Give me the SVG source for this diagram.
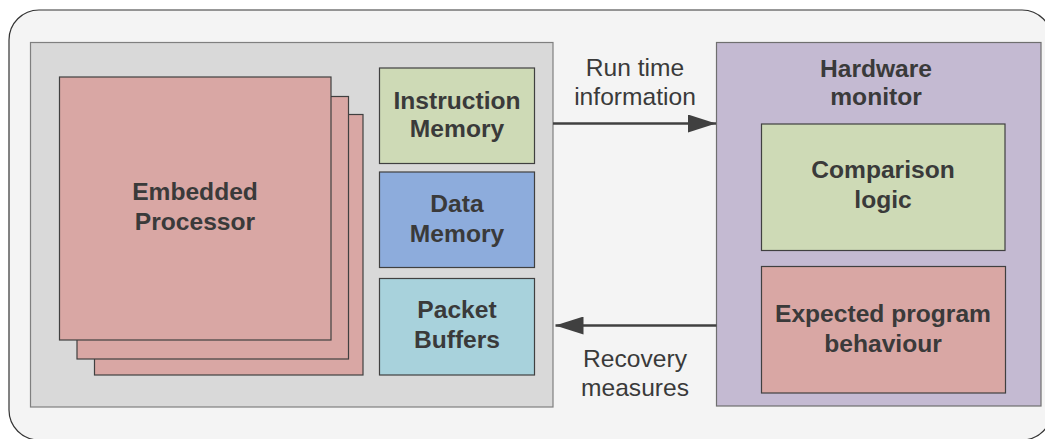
<svg xmlns="http://www.w3.org/2000/svg" width="1045" height="439" viewBox="0 0 1045 439">
<style>
.b{stroke:#404040;stroke-width:1.2}
.t{font-family:"Liberation Sans",Arial,sans-serif;font-size:24.6px;font-weight:bold;fill:#3a3a3a;text-anchor:middle}
.r{font-family:"Liberation Sans",Arial,sans-serif;font-size:24.6px;fill:#3a3a3a;text-anchor:middle}
.c{stroke:#404040;stroke-width:2.5;fill:none}
</style>
<defs>
<marker id="a" viewBox="0 0 28 18" refX="28" refY="9" markerWidth="28" markerHeight="18" markerUnits="userSpaceOnUse" orient="auto">
<path d="M0,0 L28,9 L0,18 Z" fill="#404040"/>
</marker>
</defs>
<rect x="9" y="10" width="1043" height="430" rx="30" ry="30" fill="#f4f4f4" stroke="#333" stroke-width="1.2"/>
<g id="system">
<rect x="30.5" y="42.5" width="522.5" height="364.5" fill="#d9d9d9" stroke="#7f7f7f" stroke-width="1.2"/>
</g>
<g id="processor">
<rect class="b" x="94.5" y="114.5" width="268.5" height="260.5" fill="#d9a7a4"/>
<rect class="b" x="77" y="96.5" width="271.5" height="262.5" fill="#d9a7a4"/>
<rect class="b" x="59.5" y="77" width="271.5" height="263" fill="#d9a7a4"/>
<text class="t" x="195" y="200">Embedded</text>
<text class="t" x="195" y="230">Processor</text>
</g>
<g id="imem">
<rect class="b" x="379.5" y="68" width="155" height="95.5" fill="#cedab6"/>
<text class="t" x="457" y="109">Instruction</text>
<text class="t" x="457" y="137">Memory</text>
</g>
<g id="dmem">
<rect class="b" x="379.5" y="172" width="155" height="95.5" fill="#8dacdc"/>
<text class="t" x="457" y="212">Data</text>
<text class="t" x="457" y="242">Memory</text>
</g>
<g id="pbuf">
<rect class="b" x="379.5" y="278.5" width="155" height="96.5" fill="#a8d2dc"/>
<text class="t" x="457" y="318">Packet</text>
<text class="t" x="457" y="348">Buffers</text>
</g>
<g id="monitor">
<rect x="716.5" y="42.5" width="324.5" height="363.5" fill="#c4bad2" stroke="#6f6f6f" stroke-width="1.2"/>
<text class="t" x="876" y="77">Hardware</text>
<text class="t" x="876" y="105">monitor</text>
</g>
<g id="comparison">
<rect class="b" x="761.5" y="124" width="243.5" height="126.5" fill="#cedab6"/>
<text class="t" x="883" y="178">Comparison</text>
<text class="t" x="883" y="208">logic</text>
</g>
<g id="expected">
<rect class="b" x="761.5" y="266.5" width="244" height="126.5" fill="#d9a7a4"/>
<text class="t" x="883" y="322">Expected program</text>
<text class="t" x="883" y="352">behaviour</text>
</g>
<g id="connectors">
<line class="c" x1="553" y1="123.5" x2="716" y2="123.5" marker-end="url(#a)"/>
<line class="c" x1="716.5" y1="325.5" x2="555.5" y2="325.5" marker-end="url(#a)"/>
<text class="r" x="635" y="76">Run time</text>
<text class="r" x="635" y="105">information</text>
<text class="r" x="635" y="367">Recovery</text>
<text class="r" x="635" y="396">measures</text>
</g>
</svg>
